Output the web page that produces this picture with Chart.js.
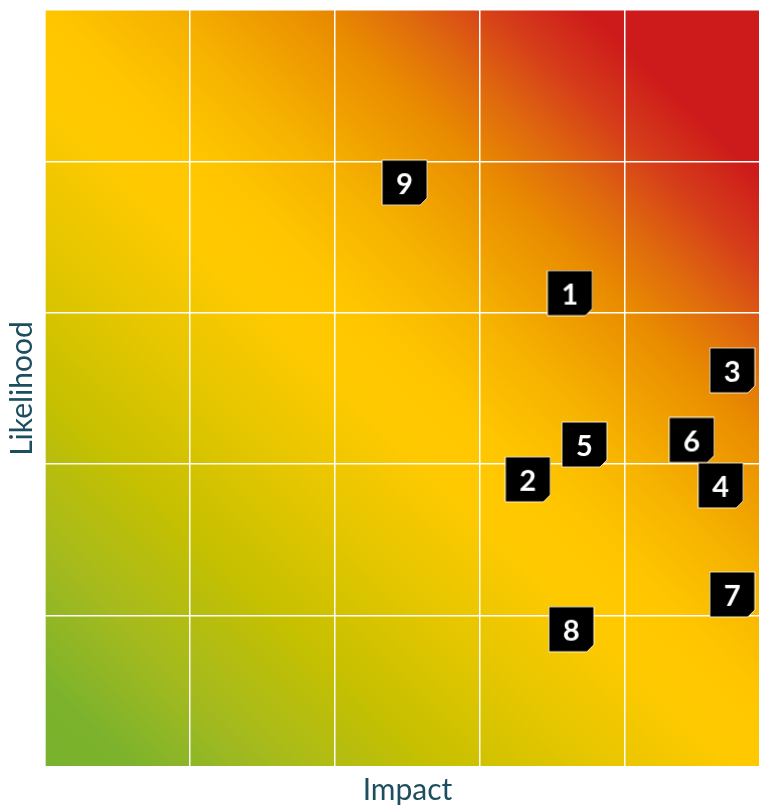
<!DOCTYPE html>
<html>
<head>
<meta charset="utf-8">
<script src="https://cdn.jsdelivr.net/npm/chart.js@4"></script>
<style>
  html, body { margin: 0; padding: 0; background: #fff; overflow: hidden; }
  #wrap { width: 775px; height: 805px; }
</style>
</head>
<body>
<div id="wrap"><canvas id="riskChart" width="775" height="805"></canvas></div>
<script>
const riskIds = ['1', '2', '3', '4', '5', '6', '7', '8', '9'];
const impact = [3.62, 3.33, 4.74, 4.66, 3.72, 4.46, 4.74, 3.63, 2.48];
const likelihood = [3.13, 1.90, 2.62, 1.86, 2.13, 2.16, 1.14, 0.91, 3.86];
const gridSteps = [0, 1, 2, 3, 4, 5];

const axisColor = '#1d4e5f';
const fontFamily = 'Lato, "Noto Sans", sans-serif';

// Marcador: cuadro negro con esquina doblada
function makeMarker(label) {
  const size = 47;
  const c = document.createElement('canvas');
  c.width = size;
  c.height = size;
  const g = c.getContext('2d');
  const w = 45, cut = 7, o = 1;
  g.beginPath();
  g.moveTo(o, o);
  g.lineTo(o + w, o);
  g.lineTo(o + w, o + w - cut);
  g.lineTo(o + w - cut, o + w);
  g.lineTo(o, o + w);
  g.closePath();
  g.fillStyle = '#000';
  g.fill();
  g.lineWidth = 1;
  g.strokeStyle = 'rgba(255,245,215,0.9)';
  g.stroke();
  g.fillStyle = '#fff';
  g.font = 'bold 29px ' + fontFamily;
  g.textAlign = 'center';
  g.textBaseline = 'middle';
  g.fillText(label, o + w / 2, o + w / 2 + 2);
  return c;
}
const markers = riskIds.map(makeMarker);

// Fondo degradado verde-amarillo-rojo
const gradientBg = {
  id: 'gradientBg',
  beforeDraw(chart) {
    const { ctx, chartArea: a } = chart;
    const grad = ctx.createLinearGradient(a.left, a.bottom, a.right, a.top);
    grad.addColorStop(0, '#78b22e');
    grad.addColorStop(0.06, '#7db32c');
    grad.addColorStop(0.15, '#a4ba1e');
    grad.addColorStop(0.26, '#c6c000');
    grad.addColorStop(0.36, '#e4c600');
    grad.addColorStop(0.46, '#ffc900');
    grad.addColorStop(0.52, '#ffc600');
    grad.addColorStop(0.6, '#f6b200');
    grad.addColorStop(0.7, '#e98c00');
    grad.addColorStop(0.76, '#df680e');
    grad.addColorStop(0.82, '#d53c1a');
    grad.addColorStop(0.88, '#cd1a1a');
    grad.addColorStop(1, '#cd1a1a');
    ctx.save();
    ctx.fillStyle = grad;
    ctx.fillRect(a.left, a.top, a.right - a.left, a.bottom - a.top);
    ctx.restore();
  }
};

function createRiskChart() {
  const ctx = document.getElementById('riskChart').getContext('2d');
  new Chart(ctx, {
    type: 'scatter',
    data: {
      datasets: [{
        data: impact.map((x, i) => ({ x: x, y: likelihood[i] })),
        pointStyle: markers,
        pointRadius: 22,
        clip: false
      }]
    },
    options: {
      responsive: false,
      animation: false,
      layout: { autoPadding: false, padding: { top: 10, right: 5, left: 0, bottom: 0 } },
      plugins: {
        legend: { display: false },
        tooltip: { enabled: false }
      },
      scales: {
        x: {
          type: 'linear',
          min: gridSteps[0],
          max: gridSteps[gridSteps.length - 1],
          ticks: { display: false, stepSize: 1 },
          grid: { color: '#ffffff', lineWidth: 1.5, drawTicks: false },
          border: { display: true, color: 'rgba(255,255,255,0.7)', width: 1.5 },
          title: {
            display: true,
            text: 'Impact',
            color: axisColor,
            font: { family: fontFamily, size: 30, weight: '400', lineHeight: 1 },
            padding: { top: 0, bottom: 0 }
          },
          afterFit(scale) { scale.height = 38; }
        },
        y: {
          type: 'linear',
          min: gridSteps[0],
          max: gridSteps[gridSteps.length - 1],
          ticks: { display: false, stepSize: 1 },
          grid: { color: '#ffffff', lineWidth: 1.5, drawTicks: false },
          border: { display: true, color: 'rgba(255,255,255,0.7)', width: 1.5 },
          title: {
            display: true,
            text: 'Likelihood',
            color: axisColor,
            font: { family: fontFamily, size: 30, weight: '400', lineHeight: 1 },
            padding: { top: 7, bottom: 0 }
          },
          afterFit(scale) { scale.width = 45; }
        }
      }
    },
    plugins: [gradientBg]
  });
}

document.addEventListener('DOMContentLoaded', createRiskChart);
</script>
</body>
</html>
